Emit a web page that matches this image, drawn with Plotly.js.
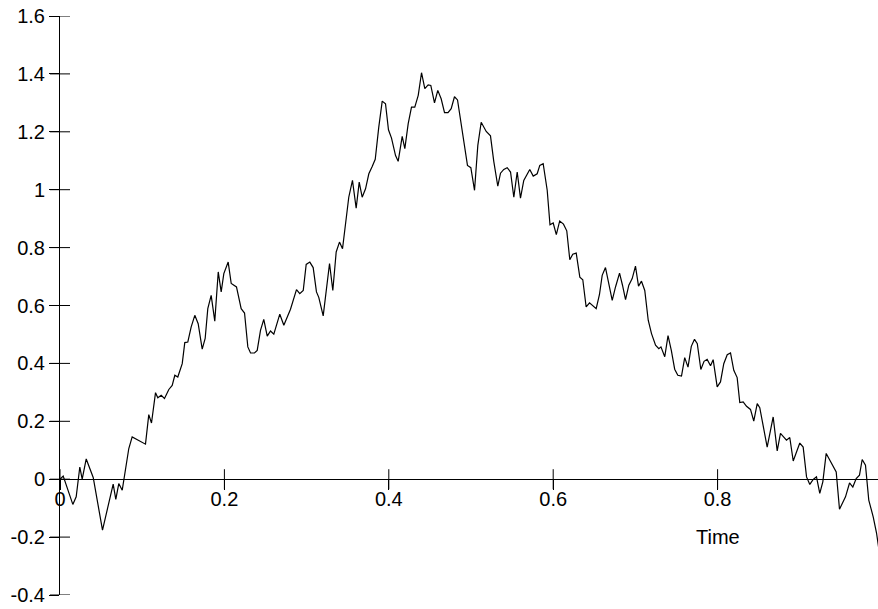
<!DOCTYPE html>
<html>
<head>
<meta charset="utf-8">
<script src="https://cdn.plot.ly/plotly-3.0.1.min.js"></script>
<style>
html,body{margin:0;padding:0;background:#fff;overflow:hidden;}
#chart{width:884px;height:609px;}
</style>
</head>
<body>
<div id="chart"></div>
<script>
const timeValues = [
0.0000,0.0039,0.0156,0.0197,0.0241,0.0270,0.0319,0.0404,0.0517,0.0647,
0.0679,0.0715,0.0757,0.0837,0.0878,0.1040,0.1080,0.1113,0.1162,0.1190,
0.1231,0.1271,0.1324,0.1365,0.1397,0.1433,0.1487,0.1518,0.1555,0.1596,
0.1640,0.1681,0.1730,0.1766,0.1798,0.1839,0.1883,0.1925,0.1961,0.1993,
0.2046,0.2083,0.2147,0.2204,0.2245,0.2285,0.2318,0.2366,0.2399,0.2439,
0.2479,0.2521,0.2561,0.2601,0.2674,0.2723,0.2804,0.2877,0.2917,0.2959,
0.2995,0.3039,0.3080,0.3120,0.3148,0.3202,0.3279,0.3319,0.3360,0.3400,
0.3437,0.3513,0.3558,0.3603,0.3640,0.3676,0.3717,0.3757,0.3798,0.3835,
0.3878,0.3920,0.3960,0.3996,0.4033,0.4082,0.4114,0.4163,0.4195,0.4236,
0.4276,0.4316,0.4358,0.4398,0.4438,0.4479,0.4511,0.4556,0.4596,0.4637,
0.4678,0.4720,0.4759,0.4799,0.4836,0.4881,0.4921,0.4957,0.4998,0.5043,
0.5083,0.5124,0.5185,0.5237,0.5277,0.5326,0.5359,0.5399,0.5440,0.5481,
0.5521,0.5562,0.5602,0.5642,0.5715,0.5757,0.5805,0.5837,0.5878,0.5927,
0.5961,0.6000,0.6038,0.6079,0.6125,0.6165,0.6202,0.6238,0.6280,0.6324,
0.6360,0.6401,0.6442,0.6523,0.6563,0.6596,0.6636,0.6676,0.6718,0.6758,
0.6807,0.6843,0.6880,0.6920,0.6961,0.7001,0.7038,0.7074,0.7114,0.7156,
0.7196,0.7245,0.7285,0.7311,0.7357,0.7397,0.7437,0.7478,0.7516,0.7561,
0.7600,0.7640,0.7680,0.7719,0.7753,0.7796,0.7835,0.7873,0.7914,0.7946,
0.7995,0.8035,0.8075,0.8117,0.8157,0.8197,0.8238,0.8270,0.8311,0.8352,
0.8400,0.8440,0.8482,0.8513,0.8603,0.8676,0.8725,0.8765,0.8798,0.8838,
0.8878,0.8920,0.9000,0.9041,0.9082,0.9122,0.9163,0.9203,0.9243,0.9280,
0.9321,0.9361,0.9443,0.9483,0.9556,0.9605,0.9645,0.9686,0.9726,0.9759,
0.9799,0.9839,0.9893,0.9933,0.9961
];
const pathValues = [
0.000,0.011,-0.087,-0.061,0.042,0.000,0.070,0.006,-0.176,-0.017,
-0.070,-0.015,-0.038,0.106,0.146,0.121,0.223,0.194,0.299,0.281,
0.290,0.279,0.310,0.324,0.359,0.353,0.399,0.472,0.474,0.526,
0.566,0.537,0.449,0.486,0.589,0.635,0.546,0.716,0.647,0.710,
0.750,0.676,0.664,0.589,0.574,0.457,0.436,0.436,0.445,0.514,
0.552,0.494,0.512,0.501,0.570,0.532,0.587,0.655,0.641,0.652,
0.742,0.750,0.731,0.647,0.628,0.564,0.745,0.652,0.785,0.819,
0.796,0.974,1.032,0.936,1.026,0.974,1.003,1.055,1.080,1.105,
1.216,1.306,1.297,1.207,1.178,1.118,1.098,1.184,1.142,1.228,
1.285,1.285,1.326,1.404,1.349,1.362,1.360,1.300,1.343,1.314,
1.266,1.266,1.280,1.321,1.310,1.222,1.150,1.084,1.076,0.998,
1.153,1.233,1.201,1.186,1.098,1.012,1.057,1.070,1.076,1.061,
0.974,1.061,0.971,1.032,1.070,1.047,1.055,1.084,1.090,0.998,
0.879,0.885,0.845,0.892,0.881,0.858,0.758,0.777,0.781,0.698,
0.689,0.595,0.609,0.589,0.638,0.704,0.731,0.681,0.618,0.664,
0.712,0.670,0.620,0.670,0.693,0.736,0.667,0.684,0.652,0.549,
0.503,0.463,0.451,0.457,0.423,0.496,0.445,0.380,0.359,0.356,
0.420,0.387,0.459,0.483,0.468,0.379,0.407,0.414,0.392,0.413,
0.319,0.336,0.399,0.430,0.436,0.376,0.351,0.265,0.267,0.252,
0.241,0.201,0.261,0.247,0.111,0.215,0.098,0.158,0.146,0.135,
0.144,0.063,0.125,0.111,0.008,-0.018,-0.001,0.008,-0.049,-0.009,
0.089,0.068,0.025,-0.104,-0.061,-0.013,-0.027,0.002,0.014,0.068,
0.048,-0.072,-0.130,-0.185,-0.239
];
const xTickVals = [0, 0.2, 0.4, 0.6, 0.8, 1];
const xTickText = ['0', '0.2', '0.4', '0.6', '0.8', '1'];
const yTickVals = [-0.4, -0.2, 0, 0.2, 0.4, 0.6, 0.8, 1, 1.2, 1.4, 1.6];
const yTickText = ['-0.4', '-0.2', '0', '0.2', '0.4', '0.6', '0.8', '1', '1.2', '1.4', '1.6'];
const xLabel = 'Time';

const FONT = 'Liberation Sans, Arial, Helvetica, sans-serif';
const tickFont = {family: FONT, size: 20, color: '#000'};
const TICK_HALF = 10;

const trace = {
  x: timeValues, y: pathValues, type: 'scatter', mode: 'lines',
  line: {color: '#000', width: 1.2}, hoverinfo: 'skip', showlegend: false
};

// Tick marks that cross the axis lines (drawn on both sides)
const tickShapes = [];
xTickVals.forEach(v => tickShapes.push({
  type: 'line', xref: 'x', yref: 'paper', ysizemode: 'pixel', yanchor: 0.2,
  x0: v, x1: v, y0: -TICK_HALF, y1: TICK_HALF,
  line: {color: '#000', width: 1}
}));
yTickVals.forEach(v => tickShapes.push({
  type: 'line', xref: 'paper', yref: 'y', xsizemode: 'pixel', xanchor: 0,
  x0: -TICK_HALF, x1: TICK_HALF, y0: v, y1: v,
  line: {color: '#000', width: 1}
}));

const layout = {
  width: 884, height: 609,
  margin: {l: 60, r: 2, t: 16, b: 14},
  paper_bgcolor: '#fff', plot_bgcolor: '#fff',
  showlegend: false,
  font: {family: FONT, color: '#000'},
  xaxis: {
    range: [0, 1], anchor: 'free', position: 0.2,
    showline: true, linecolor: '#000', linewidth: 1,
    ticks: 'outside', ticklen: 10, tickwidth: 1, tickcolor: '#000',
    ticklabelstandoff: -8,
    tickmode: 'array', tickvals: xTickVals, ticktext: xTickText,
    tickfont: tickFont, showgrid: false, zeroline: false, fixedrange: true
  },
  yaxis: {
    range: [-0.4, 1.6], anchor: 'x',
    showline: true, linecolor: '#000', linewidth: 1,
    ticks: 'outside', ticklen: 10, tickwidth: 1, tickcolor: '#000',
    tickmode: 'array', tickvals: yTickVals, ticktext: yTickText,
    tickfont: tickFont, showgrid: false, zeroline: false, fixedrange: true
  },
  shapes: tickShapes,
  annotations: [{
    text: xLabel, x: 0.8, y: -0.2, xref: 'x', yref: 'y',
    showarrow: false, font: {family: FONT, size: 20, color: '#000'},
    xanchor: 'center', yanchor: 'middle'
  }]
};

Plotly.newPlot('chart', [trace], layout, {displayModeBar: false, staticPlot: true});
</script>
</body>
</html>
